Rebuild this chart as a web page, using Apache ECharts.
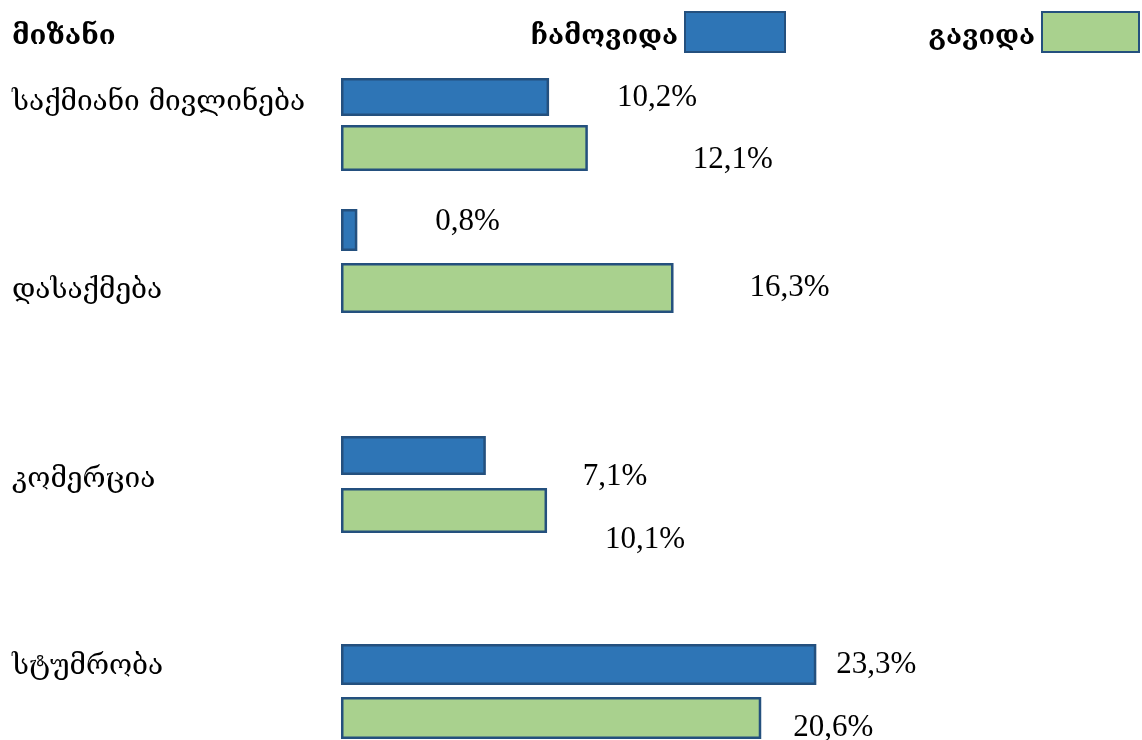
<!DOCTYPE html>
<html>
<head>
<meta charset="utf-8">
<script src="https://cdn.jsdelivr.net/npm/echarts@6/dist/echarts.min.js"></script>
<style>html,body{margin:0;padding:0;background:#fff}#c{width:1142px;height:740px}</style>
</head>
<body>
<div id="c"></div>
<script>
// ---- data ----
const categories = ['საქმიანი მივლინება', 'დასაქმება', 'კომერცია', 'სტუმრობა'];
const arrived = [10.2, 0.8, 7.1, 23.3];     // ჩამოვიდა
const departed = [12.1, 16.3, 10.1, 20.6];  // გავიდა
const seriesNames = ['ჩამოვიდა', 'გავიდა'];
const headerText = 'მიზანი';

// ---- layout (pixel boxes for each bar row: [top, height]) ----
const rowBoxes = [[78, 38], [125, 46], [209, 42], [263, 50], [436, 39], [488, 45], [644, 41], [697, 42]];
const labelOffsets = [[68, 1], [105, 12], [78, -8], [76, 0], [97, 21], [58, 29], [20, 0], [32, 10]];
const catLabelRow = [0, 3, 4, 6];
const catLabelLine = [11, 5, 48, 4];   // top-aligned label line heights (vertical nudge)

const GEO = '"DejaVu Serif", "DejaVu Sans", sans-serif';
const NUM = '"Liberation Serif", "DejaVu Serif", serif';
const fills = ['#2E75B6', '#A9D18E'];
const border = '#24507E';

const grids = [], xAxes = [], yAxes = [], series = [];
rowBoxes.forEach((box, i) => {
  const cat = Math.floor(i / 2);
  const s = i % 2;
  grids.push({ left: 341, width: 612, top: box[0], height: box[1] });
  xAxes.push({ type: 'value', gridIndex: i, min: 0, max: 30, show: false });
  const li = catLabelRow.indexOf(i);
  const lab = {
    show: li >= 0, align: 'left', margin: 329,
    fontFamily: GEO, fontSize: 28, color: '#000'
  };
  if (li >= 0) {
    lab.verticalAlign = 'top';
    lab.lineHeight = catLabelLine[li];
  }
  yAxes.push({
    type: 'category', gridIndex: i, data: [categories[cat]],
    axisLine: { show: false }, axisTick: { show: false }, splitLine: { show: false },
    axisLabel: lab
  });
  const v = s === 0 ? arrived[cat] : departed[cat];
  series.push({
    type: 'bar', name: seriesNames[s], xAxisIndex: i, yAxisIndex: i,
    data: [v], barCategoryGap: '0%',
    itemStyle: { color: fills[s], borderColor: border, borderWidth: 2.5 },
    label: {
      show: true, position: 'right', distance: 0,
      offset: labelOffsets[i],
      formatter: p => String(p.value).replace('.', ',') + '%',
      fontFamily: NUM, fontSize: 31, color: '#000'
    },
    emphasis: { disabled: true }, animation: false
  });
});

const legendText = {
  fontFamily: GEO, fontSize: 27, fontWeight: 'bold', color: '#000',
  rich: { t: { fontFamily: GEO, fontSize: 27, fontWeight: 'bold', color: '#000', padding: [9, 2, 0, 0] } }
};
const legendFmt = name => '{t|' + name + '}';
const option = {
  animation: false,
  title: { text: headerText, left: 7, top: 18, textStyle: { fontFamily: GEO, fontSize: 27.5, fontWeight: 'bold', color: '#000' } },
  legend: [
    { data: [seriesNames[0]], right: 356, top: 11, padding: 0, align: 'right', itemWidth: 100, itemHeight: 40, icon: 'rect', formatter: legendFmt, textStyle: legendText },
    { data: [seriesNames[1]], right: 2, top: 11, padding: 0, align: 'right', itemWidth: 97, itemHeight: 40, icon: 'rect', formatter: legendFmt, textStyle: legendText }
  ],
  grid: grids, xAxis: xAxes, yAxis: yAxes, series: series
};
const chart = echarts.init(document.getElementById('c'), null, { renderer: 'canvas' });
chart.setOption(option);
</script>
</body>
</html>
